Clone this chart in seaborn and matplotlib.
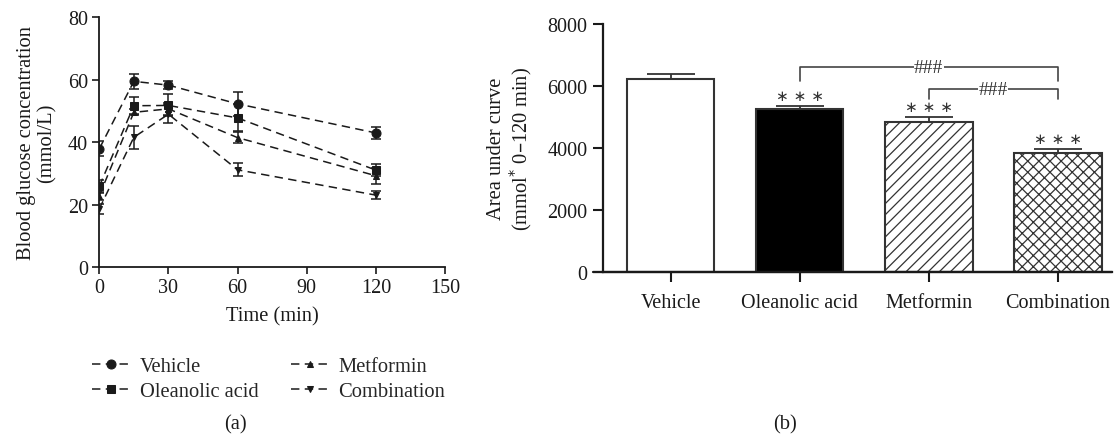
import numpy as np
import pandas as pd
import matplotlib
matplotlib.use("Agg")
import matplotlib.pyplot as plt
import seaborn as sns

# ---------------- data ----------------
time_points = [0, 15, 30, 60, 120]
groups = ["Vehicle", "Oleanolic acid", "Metformin", "Combination"]

vehicle_mean = [37.9, 59.5, 58.3, 52.3, 43.0]
vehicle_err = [2.4, 2.5, 1.2, 3.8, 2.0]
oleanolic_mean = [25.9, 51.7, 51.8, 47.8, 31.1]
oleanolic_err = [2.0, 2.7, 3.5, 4.3, 1.9]
metformin_mean = [22.9, 49.6, 50.7, 41.5, 29.3]
metformin_err = [1.3, 1.0, 2.0, 1.7, 2.5]
combination_mean = [18.7, 41.6, 49.0, 31.2, 23.1]
combination_err = [1.5, 3.6, 2.8, 2.1, 1.3]

auc_mean = [6230, 5260, 4850, 3840]
auc_err = [150, 100, 160, 130]

x_ticks_a = [0, 30, 60, 90, 120, 150]
y_ticks_a = [0, 20, 40, 60, 80]
y_ticks_b = [0, 2000, 4000, 6000, 8000]

# ---------------- style ----------------
sns.set_theme(style="ticks")
plt.rcParams["font.family"] = ["Liberation Serif", "DejaVu Serif"]
plt.rcParams["hatch.linewidth"] = 0.9
plt.rcParams["axes.linewidth"] = 1.3
FS = 14.8
TFS = 14.5
INK = "#1a1a1a"

fig = plt.figure(figsize=(11.14, 4.39), dpi=100)
ax1 = fig.add_axes([0.0891, 0.3888, 0.3104, 0.5695])
ax2 = fig.add_axes([0.5413, 0.378, 0.4569, 0.565])

# ---------------- panel (a) ----------------
series = [
    ("Vehicle", vehicle_mean, vehicle_err, "o", 6.5),
    ("Oleanolic acid", oleanolic_mean, oleanolic_err, "s", 6.0),
    ("Metformin", metformin_mean, metformin_err, "^", 4.5),
    ("Combination", combination_mean, combination_err, "v", 4.5),
]
for name, m, e, mk, ms in series:
    df = pd.DataFrame({"t": time_points, "v": m})
    sns.lineplot(data=df, x="t", y="v", ax=ax1, color=INK, marker=mk,
                 markersize=ms, markeredgecolor=INK, linewidth=1.1,
                 linestyle=(0, (5.5, 3.5)), label=name, legend=False)
    ax1.errorbar(time_points, m, yerr=e, fmt="none", ecolor=INK,
                 elinewidth=1.1, capsize=3.5, capthick=1.1)

lines = [l for l in ax1.get_lines() if l.get_label() in groups]
ax1.set_xlim(0, 150)
ax1.set_ylim(0, 80)
ax1.set_xticks(x_ticks_a)
ax1.set_yticks(y_ticks_a)
ax1.tick_params(labelsize=TFS, length=5, width=1.2, colors=INK, pad=3)
ax1.set_xlabel("Time (min)", fontsize=FS, color=INK, labelpad=6)
ax1.set_ylabel("Blood glucose concentration\n(mmol/L)", fontsize=FS,
               color=INK, labelpad=8, linespacing=1.1)
sns.despine(ax=ax1)
for s in ax1.spines.values():
    s.set_color(INK)

fig.legend(lines, [l.get_label() for l in lines], ncol=2,
           loc="upper left", bbox_to_anchor=(0.083, 0.186),
           frameon=False, fontsize=FS, handlelength=1.8,
           columnspacing=1.6, handletextpad=0.5, labelspacing=0.3,
           borderpad=0, borderaxespad=0)

# ---------------- panel (b) ----------------
dfb = pd.DataFrame({"group": groups, "auc": auc_mean})
sns.barplot(data=dfb, x="group", y="auc", order=groups, ax=ax2,
            color="white", edgecolor="#333333", linewidth=1.5, width=0.68,
            errorbar=None)
faces = ["white", "black", "white", "white"]
hatches = [None, None, "///", "xxx"]
for p, fc, h in zip(ax2.patches, faces, hatches):
    p.set_facecolor(fc)
    p.set_edgecolor("#333333")
    if h:
        p.set_hatch(h)

xpos = np.arange(len(groups))
ax2.errorbar(xpos, auc_mean, yerr=[np.zeros(len(groups)), auc_err],
             fmt="none", ecolor="#333333", elinewidth=1.3, capsize=17,
             capthick=1.3, zorder=1)

for i in range(1, 4):
    ax2.text(xpos[i], auc_mean[i] + auc_err[i] + 330, "∗ ∗ ∗", ha="center",
             va="center", fontsize=11, color="#333333",
             family=["DejaVu Sans"])

# brackets
def bracket(x0, x1, ytop, yl, yr, label):
    ax2.plot([x0, x0, x1, x1], [yl, ytop, ytop, yr], color="#444444",
             linewidth=1.2, clip_on=False)
    ax2.text((x0 + x1) / 2, ytop, label, ha="center", va="center",
             fontsize=14, color="#333333",
             bbox=dict(facecolor="white", edgecolor="none", pad=0.2))

bracket(1, 3, 6600, 6160, 6160, "###")
bracket(2, 3, 5900, 5580, 5580, "###")

ax2.set_xlim(-0.523, 3.42)
ax2.set_ylim(0, 8000)
ax2.set_yticks(y_ticks_b)
ax2.set_xlabel("")
ax2.set_ylabel("Area under curve\n(mmol$^{*}$ 0–120 min)", fontsize=FS,
               color=INK, labelpad=10, linespacing=1.0)
ax2.tick_params(labelsize=TFS, length=7, width=1.5, colors=INK, pad=4)
ax2.tick_params(axis="x", pad=8)
sns.despine(ax=ax2)
for s in ax2.spines.values():
    s.set_color(INK)
    s.set_linewidth(1.6)
ax2.axhline(0, xmin=-0.02, xmax=1, color=INK, linewidth=1.6, clip_on=False)

fig.text(235 / 1114, 1 - 425 / 439, "(a)", ha="center", va="center",
         fontsize=FS, color=INK)
fig.text(785 / 1114, 1 - 425 / 439, "(b)", ha="center", va="center",
         fontsize=FS, color=INK)

fig.savefig("out.png", dpi=100)
